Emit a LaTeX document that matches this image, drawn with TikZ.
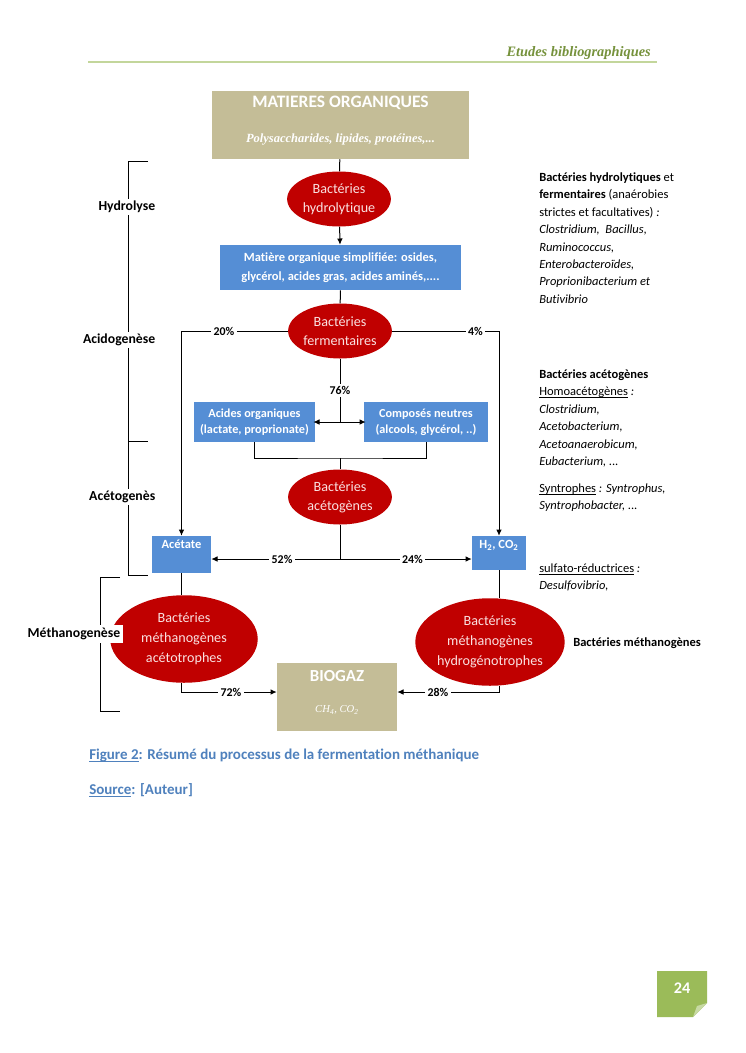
\documentclass[tikz,border=0pt]{standalone}
\usepackage{fontspec}
\setmainfont{Carlito}[Ligatures=NoCommon]
\newfontfamily\timesfont{Liberation Serif}
\usetikzlibrary{positioning,shapes.geometric,arrows.meta}
\newcommand\uln[1]{\underline{\smash{#1}}}
\definecolor{bactred}{HTML}{C00000}
\definecolor{bacttext}{RGB}{250,225,225}
\definecolor{boxblue}{HTML}{558ED5}
\definecolor{tanfill}{HTML}{C4BD97}
\definecolor{headgreen}{HTML}{76923C}
\definecolor{headline}{HTML}{C3D69B}
\definecolor{capblue}{HTML}{4F81BD}
\definecolor{pagegreen}{HTML}{9BBB59}

\begin{document}
\begin{tikzpicture}[
    x=0.8pt,y=-0.8pt,
    line/.style={draw=black,line width=0.8pt},
    arr/.style={line,-{Latex[length=5pt,width=4.5pt]}},
    bact/.style={ellipse,fill=bactred,text=bacttext,align=center,inner sep=0pt,
                 minimum width=83pt,minimum height=44pt,
                 font=\fontsize{11.3}{15}\selectfont},
    bigbact/.style={bact,minimum width=118pt,minimum height=70pt,
                    font=\fontsize{11.3}{16}\selectfont},
    bluebox/.style={rectangle,fill=boxblue,text=white,align=center,inner sep=0pt,
                    font=\bfseries\fontsize{10}{15}\selectfont},
    tanbox/.style={rectangle,fill=tanfill,inner sep=0pt},
    boxtxt/.style={text=white,inner sep=0pt},
    pct/.style={fill=white,inner sep=2pt,font=\bfseries\fontsize{9.5}{10}\selectfont},
    phase/.style={fill=white,inner sep=2pt,anchor=east,
                  font=\bfseries\fontsize{11}{12}\selectfont},
    note/.style={align=left,anchor=north west,inner sep=0pt,
                 font=\fontsize{10}{13.9}\selectfont}
]
  \useasboundingbox (0,0) rectangle (745,1053);
  \fill[white] (0,0) rectangle (745,1053);

  % page header
  \node[anchor=base east,inner sep=0pt,text=headgreen,
        font=\timesfont\bfseries\itshape\fontsize{11.5}{13}\selectfont]
    (head) at (651,56) {Etudes bibliographiques};
  \draw[headline,line width=1.6pt] (88,62) -- (657,62);

  % substrate and hydrolysis
  \node[tanbox,minimum width=205.6pt,minimum height=54.4pt] (mo) at (340.5,125) {};
  \node[boxtxt,font=\bfseries\fontsize{14}{16}\selectfont] (motitle) at (340.5,103)
    {MATIERES ORGANIQUES};
  \node[boxtxt,font=\timesfont\bfseries\itshape\fontsize{10}{11}\selectfont] (mosub)
    at (340.5,139) {Polysaccharides, lipides, protéines,...};
  \node[bact] (hydro) at (339,199) {Bactéries\\hydrolytique};
  \node[bluebox,minimum width=192.8pt,minimum height=36pt] (simp) at (340.5,267.5)
    {Matière organique simplifiée: osides,\\glycérol, acides gras, acides aminés,....};

  % acidogenesis
  \node[bact] (ferm) at (340,331) {Bactéries\\fermentaires};
  \node[bluebox,minimum width=96.8pt,minimum height=32pt,
        font=\bfseries\fontsize{9.8}{13}\selectfont] (acid) at (254.5,422)
    {Acides organiques\\(lactate, proprionate)};
  \node[bluebox,minimum width=99.2pt,minimum height=32pt,
        font=\bfseries\fontsize{9.8}{13}\selectfont] (neutre) at (426,422)
    {Composés neutres\\(alcools, glycérol, ..)};
  \coordinate (split) at (340,422);
  \coordinate (join) at (340,458);

  % acetogenesis
  \node[bact] (aceto) at (340,497) {Bactéries\\acétogènes};
  \coordinate (fork) at (340,559);
  \node[bluebox,minimum width=47.2pt,minimum height=29.6pt] (acetate) at (181.5,554.5) {};
  \node[boxtxt,font=\bfseries\fontsize{10}{11}\selectfont] (acetatetxt) at (181.5,544) {Acétate};
  \node[bluebox,minimum width=43.2pt,minimum height=27.2pt] (h2) at (499,553) {};
  \node[boxtxt,font=\bfseries\fontsize{10}{11}\selectfont] (h2txt) at (499,545)
    {H\textsubscript{2}, CO\textsubscript{2}};

  % methanogenesis
  \node[bigbact] (metha) at (184,639) {Bactéries\\méthanogènes\\acétotrophes};
  \node[bigbact] (methh) at (490,642) {Bactéries\\méthanogènes\\hydrogénotrophes};
  \node[tanbox,minimum width=96pt,minimum height=54.4pt] (biogaz) at (337,697) {};
  \node[boxtxt,font=\bfseries\fontsize{13.5}{15}\selectfont] (biogaztxt) at (337,676) {BIOGAZ};
  \node[boxtxt,font=\timesfont\itshape\fontsize{8.5}{10}\selectfont] (gastxt) at (337,710)
    {CH\textsubscript{4}, CO\textsubscript{2}};

  % flows
  \draw[line] (mo) -- (hydro);
  \draw[arr] (hydro) -- (simp);
  \draw[line] (simp) -- (ferm);
  \draw[arr] (ferm.west) -| node[pct,pos=0.3]{20\%} (acetate.north);
  \draw[arr] (ferm.east) -| node[pct,pos=0.39]{4\%} (h2.north);
  \draw[line] (ferm) -- node[pct,pos=0.5]{76\%} (split);
  \draw[line,{Latex[length=5pt,width=4.5pt]}-{Latex[length=5pt,width=4.5pt]}]
    ([xshift=-1.6pt]acid.east) -- ([xshift=1.6pt]neutre.west);
  \draw[line] (acid.south) |- (join) -| (neutre.south);
  \draw[line] (join) -- (aceto);
  \draw[line] (aceto) -- (fork);
  \draw[arr] (fork) -- node[pct,pos=0.45]{52\%} (fork -| acetate.east);
  \draw[arr] (fork) -- node[pct,pos=0.55]{24\%} (fork -| h2.west);
  \draw[line] (acetate.south) -- (acetate.south |- metha.north);
  \draw[line] (h2.south) -- (h2.south |- methh.north);
  \draw[arr] (acetate.south |- metha.south) |- node[pct,pos=0.76]{72\%}
    ([yshift=4pt]biogaz.west);
  \draw[arr] (h2.south |- methh.south) |- node[pct,pos=0.8]{28\%}
    ([yshift=4pt]biogaz.east);

  % phase brackets
  \draw[line] (148,161) -- (128,161) -- (128,575) -- (148,575);
  \draw[line] (128,441) -- (148,441);
  \draw[line] (120,577) -- (100,577) -- (100,711) -- (120,711);
  \node[phase] (hydrolyse) at (158,207) {Hydrolyse};
  \node[phase] (acidogenese) at (158,340) {Acidogenèse};
  \node[phase] (acetogenese) at (158,497) {Acétogenès};
  \node[phase,minimum height=14.4pt] (methanogenese) at (123,634) {Méthanogenèse};

  % bacteria notes
  \node[note] (notehydro) at (539,172.5)
    {\textbf{Bactéries hydrolytiques} et\\
     \textbf{fermentaires} (anaérobies\\
     strictes et facultatives) \textit{:}\\
     \textit{Clostridium,~~Bacillus,}\\
     \textit{Ruminococcus,}\\
     \textit{Enterobacteroïdes,}\\
     \textit{Proprionibacterium et}\\
     \textit{Butivibrio}};
  \node[note] (noteaceto) at (539,369.5)
    {\textbf{Bactéries acétogènes}\\
     \uln{Homoacétogènes} \textit{:}\\
     \textit{Clostridium,}\\
     \textit{Acetobacterium,}\\
     \textit{Acetoanaerobicum,}\\
     \textit{Eubacterium, ...}};
  \node[note] (notesyn) at (539,483.5)
    {\uln{Syntrophes} \textit{: Syntrophus,}\\
     \textit{Syntrophobacter, ...}};
  \node[note] (notesulf) at (539,566.5)
    {\uln{sulfato-réductrices} \textit{:}\\
     \textit{Desulfovibrio,}};
  \node[note,anchor=west] (notemeth) at (573,643) {\textbf{Bactéries méthanogènes}};

  % caption
  \node[anchor=base west,inner sep=0pt,text=capblue,font=\bfseries\fontsize{12}{14}\selectfont]
    (caption) at (89,759)
    {\uln{Figure 2}: Résumé du processus de la fermentation méthanique};
  \node[anchor=base west,inner sep=0pt,text=capblue,font=\bfseries\fontsize{12}{14}\selectfont]
    (source) at (89,794) {\uln{Source}: [Auteur]};

  % page number
  \fill[pagegreen] (657,971) -- (707,971) -- (707,1003) -- (693,1017) -- (657,1017) -- cycle;
  \fill[pagegreen!55!white] (707,1003) -- (693,1017) -- (697,1006) -- cycle;
  \node[text=white,font=\bfseries\fontsize{13}{15}\selectfont] (pagenum) at (682,988) {24};
\end{tikzpicture}
\end{document}
